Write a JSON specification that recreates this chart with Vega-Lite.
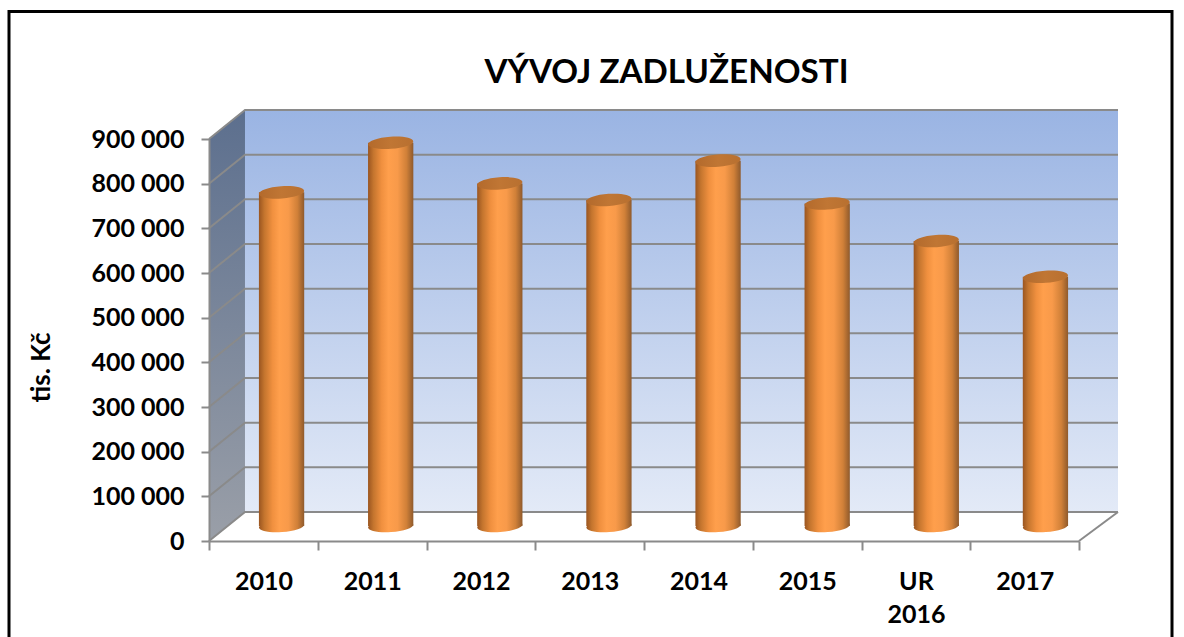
{
"$schema":"https://vega.github.io/schema/vega-lite/v6.json",
"width":909,"height":432,
"autosize":{"type":"none"},
"padding":{"left":209,"top":109,"right":66,"bottom":96},
"background":"white",
"title":{"text":"VÝVOJ ZADLUŽENOSTI","font":"Lato","fontWeight":"bold","fontSize":33.2,"color":"#000000","anchor":"middle","dx":3,"offset":-80},
"datasets":{
"bars":[
{"rok":"2010","zadluzenost":747000},
{"rok":"2011","zadluzenost":858000},
{"rok":"2012","zadluzenost":767000},
{"rok":"2013","zadluzenost":730000},
{"rok":"2014","zadluzenost":818000},
{"rok":"2015","zadluzenost":722000},
{"rok":"UR 2016","zadluzenost":638000},
{"rok":"2017","zadluzenost":558000}],
"lines":[
{"id":"0","x":0,"y":0},{"id":"0","x":0.331,"y":65000},{"id":"0","x":8.359,"y":65000},
{"id":"1","x":0,"y":100000},{"id":"1","x":0.331,"y":165000},{"id":"1","x":8.359,"y":165000},
{"id":"2","x":0,"y":200000},{"id":"2","x":0.331,"y":265000},{"id":"2","x":8.359,"y":265000},
{"id":"3","x":0,"y":300000},{"id":"3","x":0.331,"y":365000},{"id":"3","x":8.359,"y":365000},
{"id":"4","x":0,"y":400000},{"id":"4","x":0.331,"y":465000},{"id":"4","x":8.359,"y":465000},
{"id":"5","x":0,"y":500000},{"id":"5","x":0.331,"y":565000},{"id":"5","x":8.359,"y":565000},
{"id":"6","x":0,"y":600000},{"id":"6","x":0.331,"y":665000},{"id":"6","x":8.359,"y":665000},
{"id":"7","x":0,"y":700000},{"id":"7","x":0.331,"y":765000},{"id":"7","x":8.359,"y":765000},
{"id":"8","x":0,"y":800000},{"id":"8","x":0.331,"y":865000},{"id":"8","x":8.359,"y":865000},
{"id":"9","x":0,"y":900000},{"id":"9","x":0.331,"y":965000},{"id":"9","x":8.359,"y":965000},
{"id":"r","x":8,"y":0},{"id":"r","x":8.359,"y":65000}]
},
"layer":[
{"data":{"values":[{"l":0,"r":1,"b":0,"t":1}]},
 "mark":{"type":"rect","fill":"transparent","stroke":"#000000","strokeWidth":3},
 "encoding":{
  "x":{"field":"l","type":"quantitative","axis":null,"scale":{"domain":[0,1],"range":[-200,963],"zero":false,"nice":false}},
  "x2":{"field":"r"},
  "y":{"field":"b","type":"quantitative","axis":null,"scale":{"domain":[0,1],"range":[545,-97.5],"zero":false,"nice":false}},
  "y2":{"field":"t"}}},
{"data":{"values":[{"x":0,"y":0,"y2":900000},{"x":0.331,"y":65000,"y2":965000}]},
 "mark":{"type":"area","fill":{"gradient":"linear","x1":0,"y1":0,"x2":0,"y2":1,"stops":[{"offset":0,"color":"#5c6f8e"},{"offset":1,"color":"#9a9fa8"}]}},
 "encoding":{
  "x":{"field":"x","type":"quantitative","axis":null,"scale":{"domain":[0,8.359],"range":[0,909],"zero":false,"nice":false}},
  "y":{"field":"y","type":"quantitative","axis":null,"scale":{"domain":[0,967164],"range":[432,0],"zero":false,"nice":false}},
  "y2":{"field":"y2"}}},
{"data":{"values":[{"x":0.331,"x2":8.359,"y":65000,"y2":965000}]},
 "mark":{"type":"rect","fill":{"gradient":"linear","x1":0,"y1":0,"x2":0,"y2":1,"stops":[{"offset":0,"color":"#9ab4e3"},{"offset":1,"color":"#e3eaf7"}]}},
 "encoding":{
  "x":{"field":"x","type":"quantitative","axis":null,"scale":{"domain":[0,8.359],"range":[0,909],"zero":false,"nice":false}},
  "x2":{"field":"x2"},
  "y":{"field":"y","type":"quantitative","axis":null,"scale":{"domain":[0,967164],"range":[432,0],"zero":false,"nice":false}},
  "y2":{"field":"y2"}}},
{"data":{"name":"lines"},
 "mark":{"type":"line","color":"#8a8a8a","strokeWidth":2},
 "encoding":{
  "x":{"field":"x","type":"quantitative","axis":null,"scale":{"domain":[0,8.359],"range":[0,909],"zero":false,"nice":false}},
  "y":{"field":"y","type":"quantitative","axis":null,"scale":{"domain":[0,967164],"range":[432,0],"zero":false,"nice":false}},
  "detail":{"field":"id"}}},
{"data":{"name":"bars"},
 "mark":{"type":"bar","opacity":0},
 "encoding":{
  "x":{"field":"rok","type":"nominal","sort":null,"title":null,
   "scale":{"type":"band","range":[0,870],"paddingInner":0,"paddingOuter":0},
   "axis":{"orient":"bottom","zindex":1,"labelAngle":0,"labelExpr":"datum.label == 'UR 2016' ? ['UR','2016'] : datum.label","labelFont":"Lato","labelFontWeight":"bold","labelFontSize":25,"labelColor":"#000000","labelLineHeight":33,"labelPadding":19,"tickBand":"extent","tickSize":9,"tickWidth":2,"tickColor":"#8a8a8a","domainWidth":2,"domainColor":"#8a8a8a","grid":false,"labelBaseline":"top","labelOverlap":false}},
  "y":{"field":"zadluzenost","type":"quantitative","title":"tis. Kč",
   "scale":{"domain":[0,900000],"range":[432,30],"zero":false,"nice":false},
   "axis":{"orient":"left","zindex":1,"values":[0,100000,200000,300000,400000,500000,600000,700000,800000,900000],"labelExpr":"replace(format(datum.value,','),/,/g,' ')","labelFont":"Lato","labelFontWeight":"bold","labelFontSize":25,"labelColor":"#000000","labelPadding":17,"tickSize":8,"tickWidth":2,"tickColor":"#8a8a8a","domainWidth":2,"domainColor":"#8a8a8a","grid":false,"titleFont":"Lato","titleFontWeight":"bold","titleFontSize":26,"titleColor":"#000000","titleX":-155,"titleY":258,"labelOverlap":false}}}},
{"data":{"name":"bars"},
 "mark":{"type":"point","filled":true,"opacity":1,"shape":"M-0.998,0.07A1,0.27 -4 1 1 0.998,-0.07A1,0.27 -4 1 1 -0.998,0.07Z","size":2050,"fill":{"gradient":"linear","x1":0,"y1":0,"x2":1,"y2":0,"stops":[{"offset":0,"color":"#9a5520"},{"offset":0.12,"color":"#c4752e"},{"offset":0.3,"color":"#f0903f"},{"offset":0.45,"color":"#ff9f4c"},{"offset":0.65,"color":"#f89a4a"},{"offset":0.85,"color":"#d08038"},{"offset":1,"color":"#8f5a2c"}]}},
 "encoding":{
  "x":{"field":"rok","type":"nominal","sort":null,"axis":null,"scale":{"type":"band","range":[18,891],"paddingInner":0.585,"paddingOuter":0.2925}},
  "y":{"datum":0,"type":"quantitative","axis":null,"scale":{"domain":[0,900000],"range":[417,15],"zero":false,"nice":false}}}},
{"data":{"name":"bars"},
 "mark":{"type":"bar","fill":{"gradient":"linear","x1":0,"y1":0,"x2":1,"y2":0,"stops":[{"offset":0,"color":"#9a5520"},{"offset":0.12,"color":"#c4752e"},{"offset":0.3,"color":"#f0903f"},{"offset":0.45,"color":"#ff9f4c"},{"offset":0.65,"color":"#f89a4a"},{"offset":0.85,"color":"#d08038"},{"offset":1,"color":"#8f5a2c"}]}},
 "encoding":{
  "x":{"field":"rok","type":"nominal","sort":null,"axis":null,"scale":{"type":"band","range":[18,891],"paddingInner":0.585,"paddingOuter":0.2925}},
  "y":{"field":"zadluzenost","type":"quantitative","axis":null,"scale":{"domain":[0,900000],"range":[417,15],"zero":false,"nice":false}},
  "y2":{"datum":0}}},
{"data":{"name":"bars"},
 "mark":{"type":"point","filled":true,"opacity":1,"shape":"M-0.998,0.07A1,0.27 -4 1 1 0.998,-0.07A1,0.27 -4 1 1 -0.998,0.07Z","size":2050,"fill":{"gradient":"linear","x1":0,"y1":0,"x2":1,"y2":0,"stops":[{"offset":0,"color":"#b36a2c"},{"offset":0.5,"color":"#c07634"},{"offset":1,"color":"#b87030"}]}},
 "encoding":{
  "x":{"field":"rok","type":"nominal","sort":null,"axis":null,"scale":{"type":"band","range":[18,891],"paddingInner":0.585,"paddingOuter":0.2925}},
  "y":{"field":"zadluzenost","type":"quantitative","axis":null,"scale":{"domain":[0,900000],"range":[417,15],"zero":false,"nice":false}}}}
],
"resolve":{"scale":{"x":"independent","y":"independent"}},
"config":{"view":{"stroke":null},"style":{"cell":{"stroke":null}}}
}
